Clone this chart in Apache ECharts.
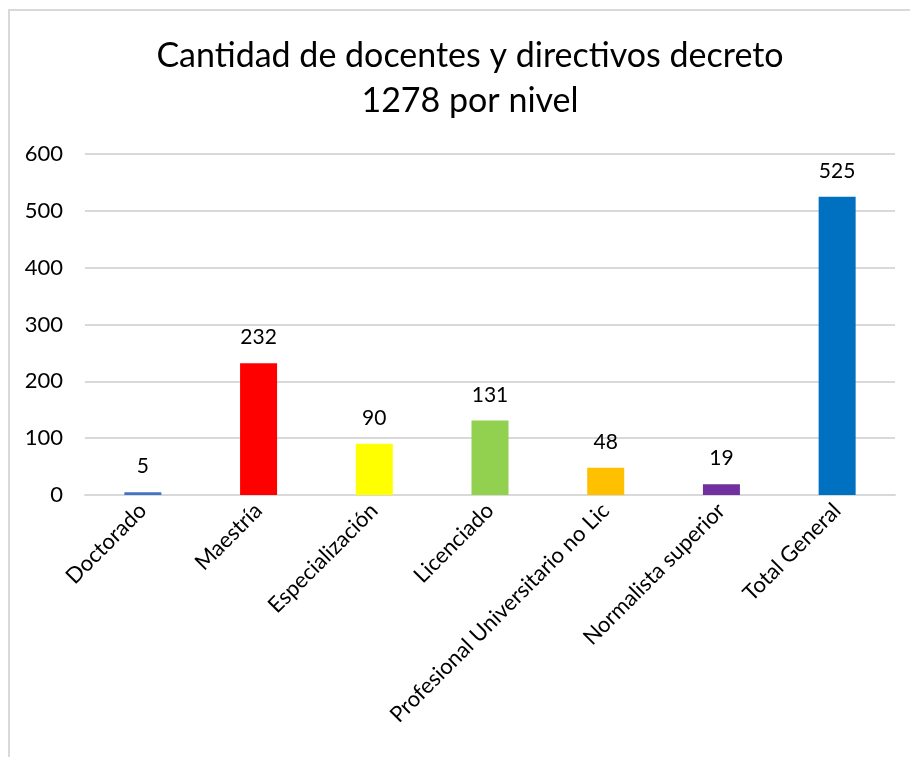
<!DOCTYPE html>
<html>
<head>
<meta charset="utf-8">
<script src="https://cdn.jsdelivr.net/npm/echarts@6/dist/echarts.min.js"></script>
<style>
  html, body { margin: 0; padding: 0; background: #fff; }
  #frame { position: absolute; left: 8px; top: 9px; width: 920px; height: 760px;
           border-left: 2px solid #d9d9d9; border-top: 2px solid #d9d9d9; }
  #chart { position: absolute; left: 0; top: 0; width: 910px; height: 757px; }
</style>
</head>
<body>
<div id="frame"></div>
<div id="chart"></div>
<script>
const categories = ["Doctorado", "Maestría", "Especialización", "Licenciado",
  "Profesional Universitario no Lic", "Normalista superior", "Total General"];
const values = [5, 232, 90, 131, 48, 19, 525];
const barColors = ["#4472C4", "#FF0000", "#FFFF00", "#92D050", "#FFC000", "#7030A0", "#0070C0"];

const font = "Lato, 'Open Sans', sans-serif";
const chart = echarts.init(document.getElementById("chart"));

chart.setOption({
  backgroundColor: "transparent",
  animation: false,
  title: {
    text: "Cantidad de docentes y directivos decreto\n1278 por nivel",
    left: 465,
    textAlign: "center",
    top: 29,
    textStyle: { fontFamily: font, fontSize: 34, fontWeight: "normal", color: "#000", lineHeight: 45 }
  },
  grid: { left: 85, right: 15, top: 154, bottom: 262 },
  xAxis: {
    type: "category",
    data: categories,
    axisLine: { lineStyle: { color: "#d9d9d9", width: 2 } },
    axisTick: { show: false },
    axisLabel: { rotate: 45, interval: 0, margin: 12, fontFamily: font, fontSize: 22, color: "#000" }
  },
  yAxis: {
    type: "value",
    min: 0,
    max: 600,
    interval: 100,
    axisLine: { show: false },
    axisTick: { show: false },
    splitLine: { lineStyle: { color: "#d9d9d9", width: 2 } },
    axisLabel: { margin: 22, fontFamily: font, fontSize: 22, color: "#000" }
  },
  series: [{
    type: "bar",
    barWidth: 37,
    data: values.map((v, i) => ({ value: v, itemStyle: { color: barColors[i] } })),
    label: { show: true, position: "top", distance: 15, fontFamily: font, fontSize: 21, color: "#000" }
  }]
});
</script>
</body>
</html>
